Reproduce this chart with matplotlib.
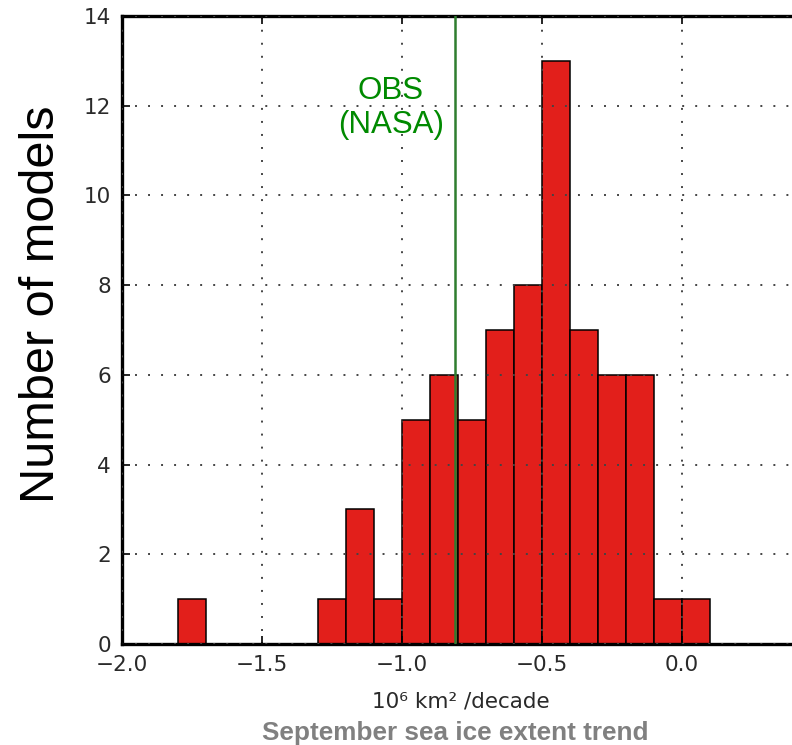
import matplotlib
matplotlib.use('Agg')
from matplotlib import pyplot as plt

# histogram of model trends (bin left edges, bin width 0.1)
bin_left = [-1.8, -1.3, -1.2, -1.1, -1.0, -0.9, -0.8, -0.7, -0.6, -0.5, -0.4, -0.3, -0.2, -0.1, 0.0]
counts = [1, 1, 3, 1, 5, 6, 5, 7, 8, 13, 7, 6, 6, 1, 1]
bin_width = 0.1
obs_trend = -0.81
xticks = [-2.0, -1.5, -1.0, -0.5, 0.0]
yticks = [0, 2, 4, 6, 8, 10, 12, 14]

fig = plt.figure(figsize=(7.92, 7.45), dpi=100)
# right edge of the axes runs past the figure, so the right frame is cut off
ax = fig.add_axes([0.154, 0.1356, 0.8838, 0.843])

ax.bar(bin_left, counts, width=bin_width, align='edge',
       color='#e21f1b', edgecolor='black', linewidth=1.1, zorder=2)
ax.axvline(obs_trend, color='#2f7d2f', linewidth=1.8, zorder=3)
ax.text(-1.04, 11.95, 'OBS\n(NASA)', color='#008a00', fontsize=22.5,
        family='Liberation Sans', ha='center', va='center', zorder=4)

ax.set_xlim(-2.0, 0.5)
ax.set_ylim(0, 14)
ax.set_xticks(xticks)
ax.set_yticks(yticks)
ax.set_xticklabels(['\u2212%.1f' % abs(v) if v < 0 else '%.1f' % v for v in xticks])

ax.grid(True, color='#444444', linestyle=(0, (1, 5.7)), linewidth=1.4, zorder=2.5)
ax.set_axisbelow(False)

for side in ['left', 'bottom', 'top', 'right']:
    ax.spines[side].set_linewidth(2.4)
ax.tick_params(direction='in', length=6, width=1.2, top=True, right=True,
               labelsize=15.5, labelcolor='#2a2a2a', pad=8)

fig.text(0.582, 0.051, '10\u2076 km\u00b2 /decade', fontsize=15.5, color='#2a2a2a',
         family='DejaVu Sans', ha='center', va='baseline')
fig.text(0.5745, 0.0065, 'September sea ice extent trend', fontsize=18.8,
         fontweight='bold', color='#808080', family='Liberation Sans',
         ha='center', va='baseline')
fig.text(0.052, 0.592, 'Number of models', fontsize=35, rotation=90,
         family='Liberation Sans', color='black', ha='center', va='center')

fig.savefig('out.png', dpi=100)
